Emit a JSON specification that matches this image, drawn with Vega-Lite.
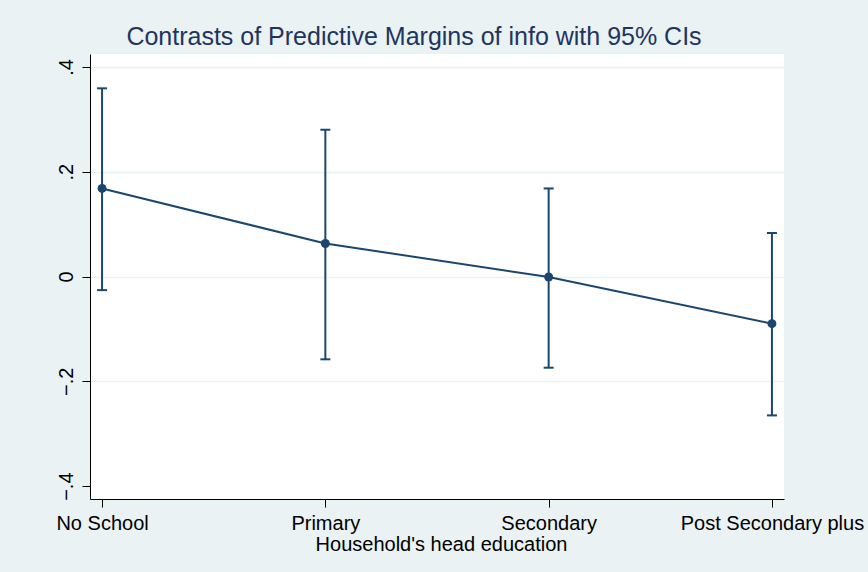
{
  "$schema": "https://vega.github.io/schema/vega-lite/v6.json",
  "width": 694,
  "height": 445,
  "autosize": {"type": "none"},
  "padding": {"left": 90, "top": 54, "right": 84, "bottom": 73},
  "background": "#EAF2F3",
  "config": {
    "view": {"fill": "white", "stroke": null},
    "font": "Liberation Sans"
  },
  "title": {
    "text": "Contrasts of Predictive Margins of info with 95% CIs",
    "font": "Liberation Sans",
    "fontSize": 25,
    "fontWeight": "normal",
    "color": "#1E3560",
    "anchor": "middle",
    "frame": "group",
    "dx": -23,
    "baseline": "alphabetic",
    "offset": -16
  },
  "data": {
    "values": [
      {"edu": "No School", "est": 0.168, "lo": -0.026, "hi": 0.359},
      {"edu": "Primary", "est": 0.063, "lo": -0.158, "hi": 0.280},
      {"edu": "Secondary", "est": -0.001, "lo": -0.174, "hi": 0.168},
      {"edu": "Post Secondary plus", "est": -0.090, "lo": -0.265, "hi": 0.083}
    ]
  },
  "encoding": {
    "x": {
      "field": "edu",
      "type": "ordinal",
      "sort": null,
      "scale": {"type": "point", "padding": 0.054},
      "axis": {
        "title": "Household's head education",
        "titleFont": "Liberation Sans",
        "titleFontSize": 20,
        "titleFontWeight": "normal",
        "titleColor": "#000",
        "titleBaseline": "alphabetic",
        "titleY": 51,
        "titleX": 351,
        "labelFont": "Liberation Sans",
        "labelFontSize": 20,
        "labelColor": "#000",
        "labelAngle": 0,
        "labelPadding": 6,
        "labelOverlap": false,
        "labelFlush": false,
        "labelLimit": 0,
        "tickSize": 8,
        "tickColor": "#000",
        "domainColor": "#000",
        "domainWidth": 1,
        "grid": false
      }
    }
  },
  "layer": [
    {
      "mark": {"type": "rule", "color": "#1A476F", "strokeWidth": 2},
      "encoding": {
        "y": {
          "field": "lo",
          "type": "quantitative",
          "scale": {"domain": [-0.4245, 0.4245], "nice": false, "zero": false},
          "axis": {
            "title": null,
            "values": [-0.4, -0.2, 0, 0.2, 0.4],
            "labelExpr": "datum.value == 0 ? '0' : replace(format(datum.value, '.1f'), '0.', '.')",
            "labelFont": "Liberation Sans",
            "labelFontSize": 20,
            "labelColor": "#000",
            "labelAngle": -90,
            "labelAlign": "center",
            "labelBaseline": "alphabetic",
            "labelPadding": 10,
            "tickSize": 8,
            "tickColor": "#000",
            "domainColor": "#000",
            "domainWidth": 1,
            "grid": true,
            "gridColor": "#EAF2F3",
            "gridWidth": 1.5,
            "gridOpacity": {"condition": {"test": "datum.value < -0.35", "value": 0}, "value": 1}
          }
        },
        "y2": {"field": "hi"}
      }
    },
    {
      "mark": {"type": "tick", "color": "#1A476F", "thickness": 2, "size": 10, "opacity": 1},
      "encoding": {"y": {"field": "lo", "type": "quantitative", "title": null}}
    },
    {
      "mark": {"type": "tick", "color": "#1A476F", "thickness": 2, "size": 10, "opacity": 1},
      "encoding": {"y": {"field": "hi", "type": "quantitative", "title": null}}
    },
    {
      "mark": {"type": "line", "color": "#1A476F", "strokeWidth": 2},
      "encoding": {"y": {"field": "est", "type": "quantitative", "title": null}}
    },
    {
      "mark": {"type": "point", "filled": true, "opacity": 1, "size": 80, "color": "#1A476F"},
      "encoding": {"y": {"field": "est", "type": "quantitative", "title": null}}
    }
  ]
}
